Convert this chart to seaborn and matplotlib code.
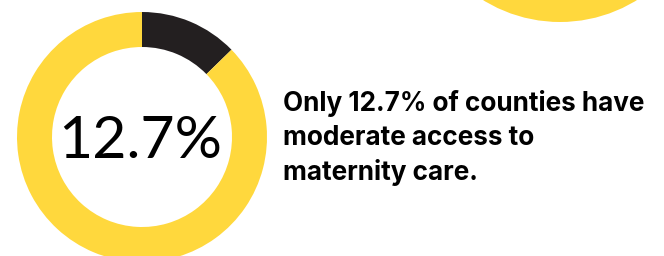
import matplotlib
matplotlib.use("Agg")
import matplotlib.pyplot as plt
from matplotlib.patches import Circle
import seaborn as sns

# share of counties with moderate access vs the rest
shares = [12.7, 87.3]
share_labels = ["Moderate access", "Other"]
big_number = "12.7%"
caption = "Only 12.7% of counties have\nmoderate access to\nmaternity care."

sns.set_theme(style="white")
plt.rcParams['font.family'] = ['Inter', 'DejaVu Sans']

yellow = "#FFD83D"
dark = "#231F20"

fig = plt.figure(figsize=(6.64, 2.56), dpi=100)
ax = fig.add_axes([0, 0, 1, 1])

# donut, drawn in pixel-like data units
ax.pie(shares, colors=[dark, yellow], startangle=90, counterclock=False,
       center=(142, 119), radius=125,
       wedgeprops=dict(width=35, linewidth=0))

# part of another circle peeking in at the top right
ax.add_patch(Circle((560, 380), 146, color=yellow, linewidth=0))

ax.text(140, 115, big_number, ha="center", va="center", fontsize=42.5,
        family=["Lato", "DejaVu Sans"], fontweight="normal", color="black")
ax.text(283, 118, caption, ha="left", va="center", fontsize=18.8,
        fontweight="bold", color="black", linespacing=1.4)

ax.set_xlim(0, 664)
ax.set_ylim(0, 256)
ax.set_aspect("equal")
ax.axis("off")

fig.savefig("out.png", dpi=100, facecolor="white")
